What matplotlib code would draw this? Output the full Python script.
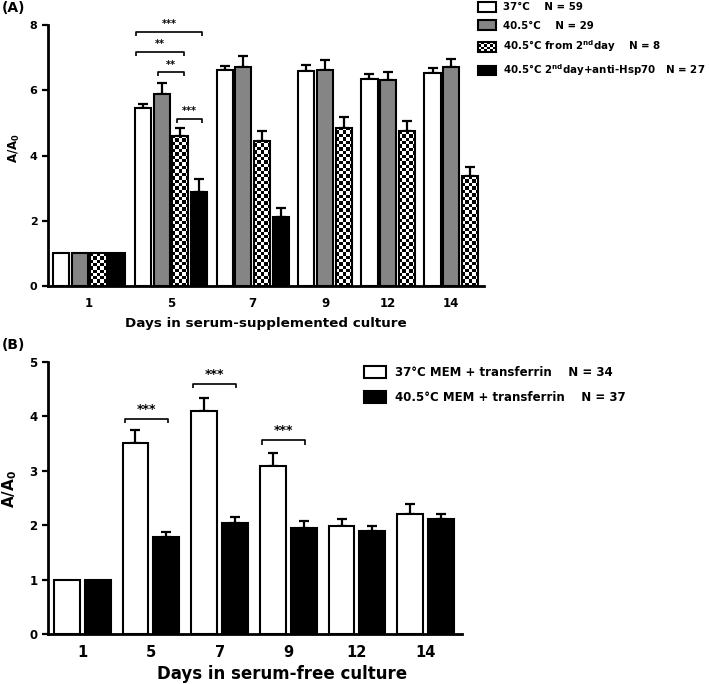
import numpy as np
import matplotlib
matplotlib.use("Agg")
import matplotlib.pyplot as plt
from matplotlib.patches import Patch, Rectangle
from matplotlib.legend_handler import HandlerBase

plt.rcParams['font.family'] = ['DejaVu Sans']
plt.rcParams['font.weight'] = 'bold'
plt.rcParams['mathtext.fontset'] = 'custom'
plt.rcParams['mathtext.rm'] = 'DejaVu Sans:bold'
plt.rcParams['mathtext.bf'] = 'DejaVu Sans:bold'
plt.rcParams['mathtext.it'] = 'DejaVu Sans:bold'

# ---------------- data ----------------
days_A = ['1', '5', '7', '9', '12', '14']
a_37 = [1.0, 5.46, 6.62, 6.60, 6.33, 6.52]
a_37_err = [0.0, 0.11, 0.12, 0.16, 0.16, 0.15]
a_405 = [1.0, 5.88, 6.70, 6.61, 6.31, 6.71]
a_405_err = [0.0, 0.33, 0.35, 0.32, 0.26, 0.25]
a_from2 = [1.0, 4.61, 4.45, 4.85, 4.75, 3.37]
a_from2_err = [0.0, 0.23, 0.31, 0.34, 0.32, 0.29]
a_hsp = [1.0, 2.89, 2.12]          # only days 1, 5, 7
a_hsp_err = [0.0, 0.40, 0.26]
labels_A = ['37°C    N = 59',
            '40.5°C    N = 29',
            '40.5°C from 2$^{nd}$day    N = 8',
            '40.5°C 2$^{nd}$day+anti-Hsp70   N = 27']
# brackets: (day index, series i, series j, height, label)
brackets_A = [(1, 0, 3, 7.79, '***'),
              (1, 0, 2, 7.18, '**'),
              (1, 1, 2, 6.55, '**'),
              (1, 2, 3, 5.12, '***')]

days_B = ['1', '5', '7', '9', '12', '14']
b_37 = [1.0, 3.51, 4.10, 3.09, 1.99, 2.21]
b_37_err = [0.0, 0.24, 0.23, 0.23, 0.12, 0.18]
b_405 = [1.0, 1.78, 2.05, 1.95, 1.89, 2.11]
b_405_err = [0.0, 0.10, 0.11, 0.13, 0.10, 0.10]
labels_B = ['37°C MEM + transferrin    N = 34',
            '40.5°C MEM + transferrin    N = 37']
brackets_B = [(1, 0, 1, 3.95, '***'),
              (2, 0, 1, 4.60, '***'),
              (3, 0, 1, 3.56, '***')]

# ---------------- figure ----------------
W, H = 709, 684
fig = plt.figure(figsize=(W / 100, H / 100), dpi=100)

GRAY = '#858585'
EDGE_LW = 1.5
SPINE_LW = 2.0


def checker_array(nx, ny):
    return (np.add.outer(np.arange(ny), np.arange(nx)) % 2).astype(float)


def layout_bars(series, gap):
    ndays = max(len(v) for v, e in series)
    centers = []
    bar_pos = {}
    start = 0.0
    for d in range(ndays):
        present = [s for s in range(len(series)) if d < len(series[s][0])]
        xs = []
        for k, s in enumerate(present):
            x = start + k
            bar_pos[(d, s)] = x
            xs.append(x)
        centers.append(np.mean(xs))
        start += len(present) + gap
    return centers, bar_pos


def render(ax, series, styles, bar_pos, width, cell_px):
    for (d, s), x in bar_pos.items():
        v = series[s][0][d]
        e = series[s][1][d]
        st = styles[s]
        if e > 0:
            ax.errorbar(x, v, yerr=[[0], [e]], fmt='none', ecolor='black',
                        elinewidth=1.6, capsize=3.8, capthick=1.6, zorder=1)
        if st == 'checker':
            b = ax.bar(x, v, width=width, facecolor='white', edgecolor='none',
                       zorder=2)[0]
            p0 = ax.transData.transform((x - width / 2, 0))
            p1 = ax.transData.transform((x + width / 2, v))
            nx = max(1, int(round(abs(p1[0] - p0[0]) / cell_px)))
            ny = max(1, int(round(abs(p1[1] - p0[1]) / cell_px)))
            im = ax.imshow(checker_array(nx, ny), cmap='gray_r', vmin=0, vmax=1,
                           extent=(x - width / 2, x + width / 2, 0, v),
                           aspect='auto', interpolation='nearest', zorder=2.5,
                           origin='lower')
            im.set_clip_path(b)
            ax.bar(x, v, width=width, facecolor='none', edgecolor='black',
                   linewidth=EDGE_LW, zorder=3)
        else:
            ax.bar(x, v, width=width, facecolor=st, edgecolor='black',
                   linewidth=EDGE_LW, zorder=3)


def style_axes(ax, yticks, centers, days, ylim, xlim, xfs, yfs):
    ax.set_xlim(*xlim)
    ax.set_ylim(*ylim)
    for sp in ['top', 'right']:
        ax.spines[sp].set_visible(False)
    for sp in ['left', 'bottom']:
        ax.spines[sp].set_linewidth(SPINE_LW)
    ax.set_yticks(yticks)
    ax.set_xticks(centers)
    ax.set_xticklabels(days)
    ax.tick_params(axis='y', direction='out', length=4.5, width=1.6,
                   labelsize=yfs, pad=3)
    ax.tick_params(axis='x', length=0, labelsize=xfs, pad=8)
    for lab in ax.get_xticklabels() + ax.get_yticklabels():
        lab.set_fontweight('bold')


def draw_brackets(ax, brackets, bar_pos, lo, hi, drop, fs):
    for d, i, j, y, lab in brackets:
        x1 = bar_pos[(d, i)] + (lo[0] if i == 0 else lo[1])
        x2 = bar_pos[(d, j)] + hi
        ax.plot([x1, x1, x2, x2], [y - drop, y, y, y - drop], color='black',
                lw=1.2, solid_capstyle='butt', zorder=4)
        ax.annotate(lab, xy=((x1 + x2) / 2, y), xytext=(0, 2.0),
                    textcoords='offset points', ha='center', va='bottom',
                    fontsize=fs, fontweight='bold', zorder=4)


class CheckerHandler(HandlerBase):
    def create_artists(self, legend, orig_handle, xdescent, ydescent, width,
                       height, fontsize, trans):
        arts = []
        x0, y0 = -xdescent, -ydescent
        nx, ny = 6, 4
        cw, ch = width / nx, height / ny
        arts.append(Rectangle((x0, y0), width, height, facecolor='white',
                              edgecolor='none', transform=trans))
        for a in range(nx):
            for b in range(ny):
                if (a + b) % 2 == 0:
                    arts.append(Rectangle((x0 + a * cw, y0 + b * ch), cw, ch,
                                          facecolor='black', edgecolor='none',
                                          transform=trans))
        arts.append(Rectangle((x0, y0), width, height, facecolor='none',
                              edgecolor='black', lw=EDGE_LW, transform=trans))
        return arts


# ---------------- Panel A ----------------
axA = fig.add_axes([48 / W, 1 - 286 / H, (484 - 48) / W, (286 - 25) / H])
seriesA = [(a_37, a_37_err), (a_405, a_405_err), (a_from2, a_from2_err),
           (a_hsp, a_hsp_err)]
stylesA = ['white', GRAY, 'checker', 'black']
gapA, widthA = 0.37, 0.86
centersA, posA = layout_bars(seriesA, gapA)
last = max(posA.values())
xlimA = (-widthA / 2 - 0.27, last + widthA / 2 + 0.32)
style_axes(axA, [0, 2, 4, 6, 8], centersA, days_A, (0, 8), xlimA, 8.5, 8)
render(axA, seriesA, stylesA, posA, widthA, 3.4)
axA.set_xlim(*xlimA)
axA.set_ylim(0, 8)
axA.set_ylabel('A/A$_0$', fontsize=8.5, fontweight='bold')
axA.yaxis.set_label_coords(-0.078, 0.53)
axA.yaxis.label.set_va('center')
axA.set_xlabel('Days in serum-supplemented culture', fontsize=9.7,
               fontweight='bold')
axA.xaxis.set_label_coords(0.5, -0.1418)
axA.xaxis.label.set_va('center')
draw_brackets(axA, brackets_A, posA, (-0.35, -0.17), 0.18, 0.12, 7)

handlesA = [Patch(facecolor='white', edgecolor='black', lw=EDGE_LW),
            Patch(facecolor=GRAY, edgecolor='black', lw=EDGE_LW),
            Patch(facecolor='white', edgecolor='black', lw=EDGE_LW),
            Patch(facecolor='black', edgecolor='black', lw=EDGE_LW)]
fig.legend(handlesA, labels_A, loc='upper left',
           bbox_to_anchor=(478 / W, 1 - 2 / H), frameon=False,
           borderpad=0, borderaxespad=0,
           handlelength=1.75, handleheight=1.05, handletextpad=0.7,
           labelspacing=0.78,
           handler_map={handlesA[2]: CheckerHandler()},
           prop={'weight': 'bold', 'size': 7.4})

# ---------------- Panel B ----------------
axB = fig.add_axes([48 / W, 1 - 634.3 / H, (462 - 48) / W, (634.3 - 361.7) / H])
seriesB = [(b_37, b_37_err), (b_405, b_405_err)]
stylesB = ['white', 'black']
gapB, widthB = 0.23, 0.84
centersB, posB = layout_bars(seriesB, gapB)
lastB = max(posB.values())
xlimB = (-widthB / 2 - 0.19, lastB + widthB / 2 + 0.26)
style_axes(axB, [0, 1, 2, 3, 4, 5], centersB, days_B, (0, 5), xlimB, 10.5, 8.5)
render(axB, seriesB, stylesB, posB, widthB, 3.4)
axB.set_xlim(*xlimB)
axB.set_ylim(0, 5)
axB.set_ylabel('A/A$_0$', fontsize=11, fontweight='bold')
axB.yaxis.set_label_coords(-0.092, 0.533)
axB.yaxis.label.set_va('center')
axB.set_xlabel('Days in serum-free culture', fontsize=12,
               fontweight='bold')
axB.xaxis.set_label_coords(0.565, -0.1456)
axB.xaxis.label.set_va('center')
draw_brackets(axB, brackets_B, posB, (-0.35, -0.35), 0.04, 0.08, 9)

handlesB = [Patch(facecolor='white', edgecolor='black', lw=EDGE_LW),
            Patch(facecolor='black', edgecolor='black', lw=EDGE_LW)]
fig.legend(handlesB, labels_B, loc='upper left',
           bbox_to_anchor=(364 / W, 1 - 366 / H), frameon=False,
           borderpad=0, borderaxespad=0,
           handlelength=1.85, handleheight=1.15, handletextpad=0.75,
           labelspacing=1.0, prop={'weight': 'bold', 'size': 8.5})

fig.text(2 / W, 1 - 1 / H, '(A)', fontsize=10, fontweight='bold',
         ha='left', va='top')
fig.text(2 / W, 1 - 338 / H, '(B)', fontsize=10, fontweight='bold',
         ha='left', va='top')

fig.savefig('out.png', dpi=100)
